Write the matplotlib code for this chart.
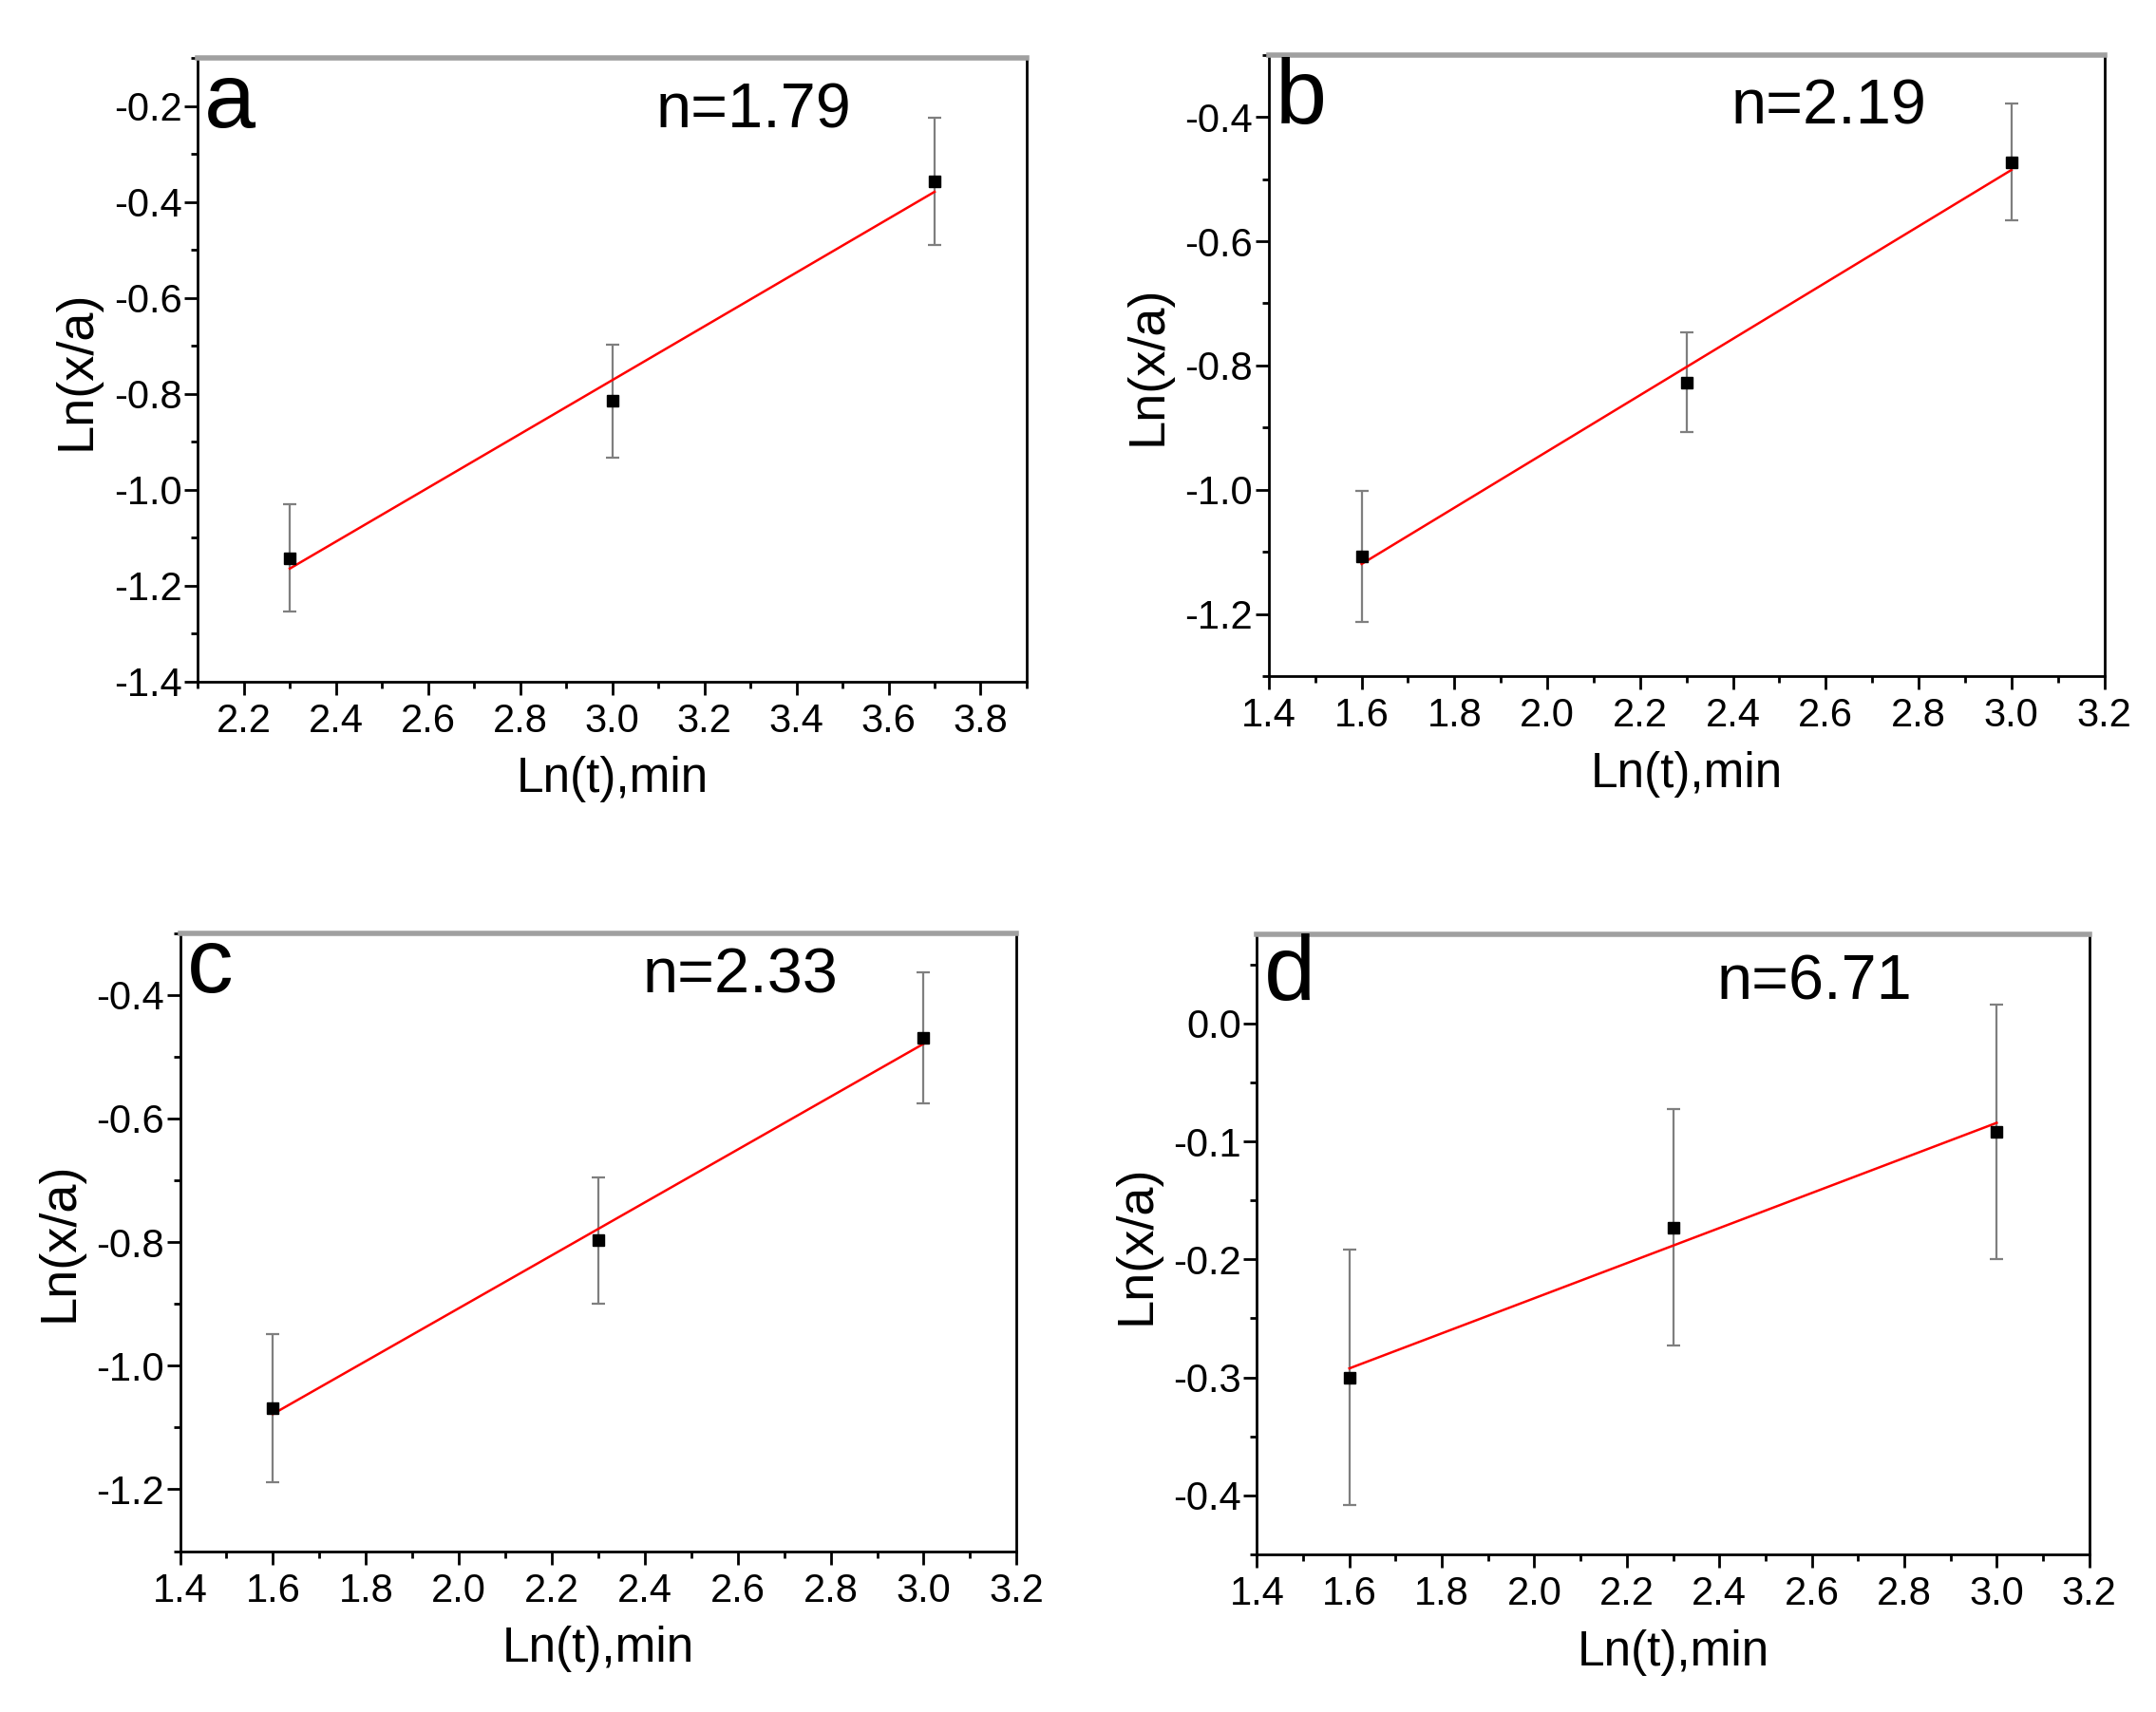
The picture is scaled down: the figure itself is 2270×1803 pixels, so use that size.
import numpy as np
import matplotlib
matplotlib.use("Agg")
import matplotlib.pyplot as plt
from matplotlib.ticker import MultipleLocator, FormatStrFormatter

plt.rcParams["font.family"] = ["Liberation Sans", "DejaVu Sans"]

# values
LN_T_A = [2.3, 3.0, 3.7]
LN_XA_A = [-1.143, -0.815, -0.357]
ERR_A = [0.112, 0.118, 0.132]

LN_T_B = [1.6, 2.3, 3.0]
LN_XA_B = [-1.107, -0.827, -0.473]
ERR_B = [0.105, 0.080, 0.094]

LN_T_C = [1.6, 2.3, 3.0]
LN_XA_C = [-1.069, -0.797, -0.470]
ERR_C = [0.120, 0.102, 0.106]

LN_T_D = [1.6, 2.3, 3.0]
LN_XA_D = [-0.300, -0.173, -0.092]
ERR_D = [0.108, 0.100, 0.108]

LETTERS = ["a", "b", "c", "d"]
N_LABELS = ["n=1.79", "n=2.19", "n=2.33", "n=6.71"]

fig = plt.figure(figsize=(22.7, 18.03), dpi=100)

# (left, bottom, width, height), xlim, ylim, y major/minor, text baseline y
panels = [
    ([0.0917, 0.602, 0.3845, 0.364], (2.1, 3.9), (-1.4, -0.1), 0.2, 0.1, 0.889),
    ([0.5885, 0.605, 0.3875, 0.363], (1.4, 3.2), (-1.3, -0.3), 0.2, 0.1, 0.889),
    ([0.0835, 0.094, 0.388, 0.361], (1.4, 3.2), (-1.3, -0.3), 0.2, 0.1, 0.904),
    ([0.583, 0.092, 0.386, 0.362], (1.4, 3.2), (-0.45, 0.075), 0.1, 0.05, 0.895),
]
data = [
    (LN_T_A, LN_XA_A, ERR_A),
    (LN_T_B, LN_XA_B, ERR_B),
    (LN_T_C, LN_XA_C, ERR_C),
    (LN_T_D, LN_XA_D, ERR_D),
]

for i, (rect, xlim, ylim, ymaj, ymin, ty) in enumerate(panels):
    x, y, err = data[i]
    ax = fig.add_axes(rect)

    ax.errorbar(x, y, yerr=err, fmt="none", ecolor="#7f7f7f", elinewidth=1.6,
                capsize=5, capthick=1.6, zorder=2)
    slope, icpt = np.polyfit(x, y, 1)
    xs = np.array([x[0], x[-1]])
    ax.plot(xs, slope * xs + icpt, color="red", lw=1.8, zorder=3)
    ax.plot(x, y, "s", color="black", markersize=9, zorder=4)

    ax.set_xlim(*xlim)
    ax.set_ylim(*ylim)
    ax.xaxis.set_major_locator(MultipleLocator(0.2))
    ax.xaxis.set_minor_locator(MultipleLocator(0.1))
    ax.yaxis.set_major_locator(MultipleLocator(ymaj))
    ax.yaxis.set_minor_locator(MultipleLocator(ymin))
    ax.xaxis.set_major_formatter(FormatStrFormatter("%.1f"))
    ax.yaxis.set_major_formatter(FormatStrFormatter("%.1f"))

    ax.tick_params(which="both", direction="out", top=False, right=False,
                   width=2, color="black")
    ax.tick_params(which="major", length=10, labelsize=30)
    ax.tick_params(which="minor", length=5)
    ax.tick_params(axis="x", which="major", pad=6)
    ax.tick_params(axis="y", which="major", pad=2)

    for side in ["left", "bottom", "right"]:
        ax.spines[side].set_linewidth(2)
        ax.spines[side].set_color("black")
    ax.spines["top"].set_linewidth(4)
    ax.spines["top"].set_color("#a0a0a0")

    ax.set_xlabel("Ln(t),min", fontsize=37, labelpad=12)
    ax.set_ylabel("Ln(x/a)", fontsize=39, labelpad=10)

    ax.text(0.008, ty, LETTERS[i], transform=ax.transAxes, fontsize=70,
            ha="left", va="baseline")
    ax.text(0.67, ty, N_LABELS[i], transform=ax.transAxes, fontsize=48,
            ha="center", va="baseline")

fig.savefig("out.png", dpi=100, facecolor="white")
